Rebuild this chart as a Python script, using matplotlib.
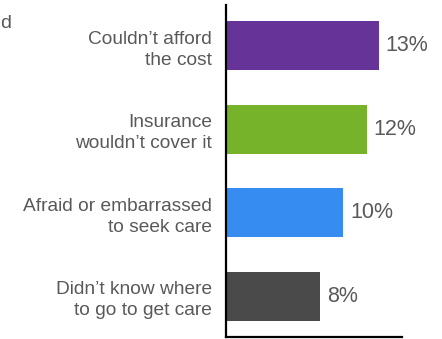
import matplotlib

matplotlib.use("Agg")
import matplotlib.pyplot as plt

reasons = [
    "Couldn\u2019t afford\nthe cost",
    "Insurance\nwouldn\u2019t cover it",
    "Afraid or embarrassed\nto seek care",
    "Didn\u2019t know where\nto go to get care",
]
shares = [13, 12, 10, 8]
colors = ["#663399", "#76b22a", "#378cf2", "#4a4a4a"]

TEXT = "#595959"
plt.rcParams["font.family"] = ["Liberation Sans", "DejaVu Sans"]

fig = plt.figure(figsize=(4.42, 3.39), dpi=100)
ax = fig.add_axes([226 / 442, 2 / 339, 176 / 442, 332 / 339])

ypos = list(range(len(reasons)))
ax.barh(ypos, shares, height=0.59, color=colors)
for y, v in zip(ypos, shares):
    ax.text(v + 0.6, y, f"{v}%", va="center", ha="left", fontsize=15.5, color=TEXT)

ax.set_xlim(0, 15)
ax.set_ylim(3.49, -0.49)
ax.set_yticks(ypos, labels=reasons)
ax.tick_params(axis="y", length=0, pad=10, labelsize=13.8, labelcolor=TEXT)
for lab in ax.get_yticklabels():
    lab.set_linespacing(1.32)
    lab.set_multialignment("right")
ax.set_xticks([])
for side in ("top", "right"):
    ax.spines[side].set_visible(False)
ax.spines["left"].set_linewidth(1.6)
ax.spines["bottom"].set_linewidth(1.6)

# cut-off title fragment in the top-left corner
fig.text(0.0, 1 - 28 / 339, "d", ha="left", va="baseline", fontsize=14, color=TEXT)

fig.savefig("out.png", dpi=100)
